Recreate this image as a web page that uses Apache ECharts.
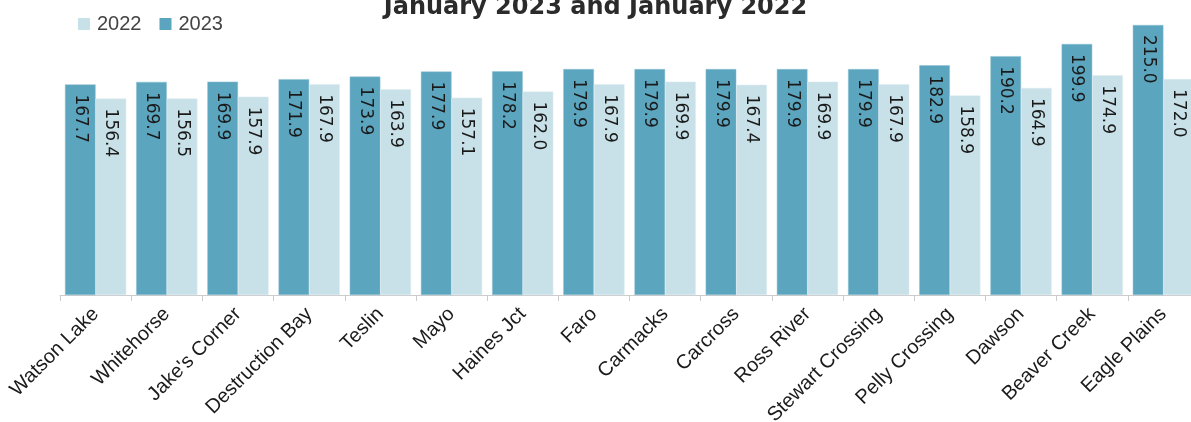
<!DOCTYPE html>
<html>
<head>
<meta charset="utf-8">
<script src="https://cdn.jsdelivr.net/npm/echarts@6/dist/echarts.min.js"></script>
<style>
  html, body { margin: 0; padding: 0; background: #fff; }
  #chart { width: 1191px; height: 422px; }
</style>
</head>
<body>
<div id="chart"></div>
<script>
const categories = ['Watson Lake', 'Whitehorse', "Jake's Corner", 'Destruction Bay', 'Teslin', 'Mayo',
  'Haines Jct', 'Faro', 'Carmacks', 'Carcross', 'Ross River', 'Stewart Crossing', 'Pelly Crossing',
  'Dawson', 'Beaver Creek', 'Eagle Plains']
const values2023 = [167.7, 169.7, 169.9, 171.9, 173.9, 177.9, 178.2, 179.9, 179.9, 179.9, 179.9, 179.9, 182.9, 190.2, 199.9, 215.0]
const values2022 = [156.4, 156.5, 157.9, 167.9, 163.9, 157.1, 162.0, 167.9, 169.9, 167.4, 169.9, 167.9, 158.9, 164.9, 174.9, 172.0]

const colorDark = '#5ba5bf'
const colorLight = '#c8e1e8'

const myChart = echarts.init(document.getElementById('chart'))

const barLabel = {
  show: true,
  position: 'insideTop',
  distance: 10,
  rotate: -90,
  align: 'left',
  verticalAlign: 'middle',
  color: '#1a1a1a',
  fontFamily: 'DejaVu Sans',
  fontSize: 17,
  formatter: (p) => p.value.toFixed(1)
}

const option = {
  animation: false,
  title: {
    text: 'January 2023 and January 2022',
    left: 'center',
    top: -4,
    padding: 0,
    textStyle: {
      color: '#2b2b2b',
      fontFamily: 'DejaVu Sans',
      fontWeight: 'bold',
      fontSize: 24
    }
  },
  legend: {
    left: 78,
    top: 14,
    padding: 0,
    itemWidth: 12,
    itemHeight: 12,
    itemGap: 18,
    icon: 'rect',
    data: ['2022', '2023'],
    itemStyle: { borderWidth: 0 },
    textStyle: {
      color: '#444',
      fontFamily: 'Liberation Sans',
      fontSize: 20,
      padding: [0, 0, 0, 2]
    }
  },
  grid: {
    top: 25,
    left: 60,
    right: -8,
    bottom: 127,
    containLabel: false,
    outerBoundsMode: 'none'
  },
  xAxis: {
    type: 'category',
    data: categories,
    axisLine: { show: true, lineStyle: { color: '#cccccc', width: 1 } },
    axisTick: { show: true, length: 6, lineStyle: { color: '#cccccc' } },
    axisLabel: {
      interval: 0,
      rotate: 45,
      margin: 16,
      color: '#1a1a1a',
      fontFamily: 'Liberation Sans',
      fontSize: 20
    }
  },
  yAxis: {
    type: 'value',
    min: 0,
    max: 215,
    show: false,
    splitLine: { show: false }
  },
  series: [
    {
      name: '2023',
      type: 'bar',
      data: values2023,
      barGap: 0,
      barCategoryGap: '14%',
      itemStyle: { color: colorDark, borderColor: '#8fc1d3', borderWidth: 0.5 },
      label: barLabel
    },
    {
      name: '2022',
      type: 'bar',
      data: values2022,
      itemStyle: { color: colorLight, borderColor: '#dcebf0', borderWidth: 0.5 },
      label: barLabel
    }
  ]
}

myChart.setOption(option)
</script>
</body>
</html>
